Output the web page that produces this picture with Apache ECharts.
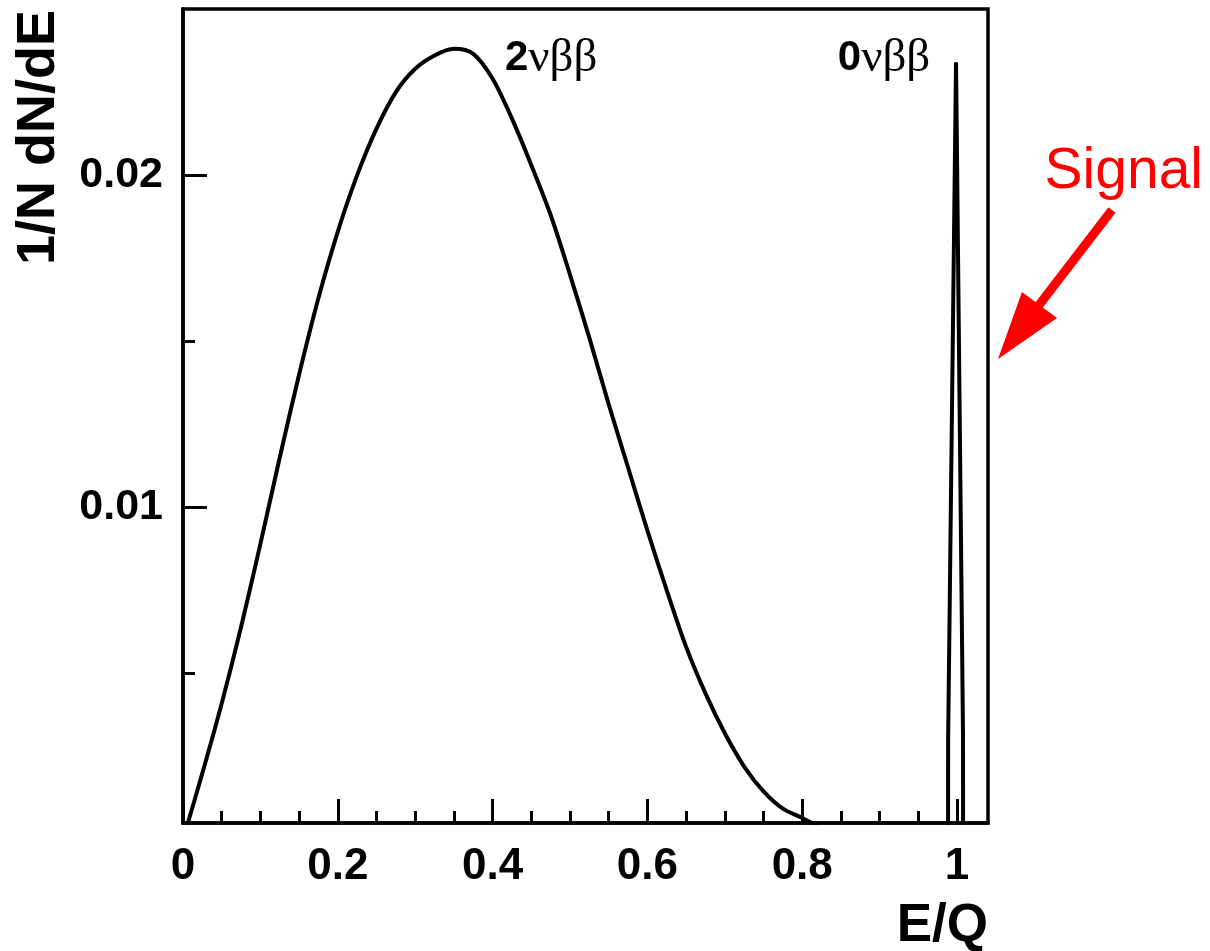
<!DOCTYPE html>
<html>
<head>
<meta charset="utf-8">
<script src="https://cdn.jsdelivr.net/npm/echarts@6/dist/echarts.min.js"></script>
<style>
  html, body { margin: 0; padding: 0; background: #ffffff; }
  #chart { width: 1210px; height: 951px; }
</style>
</head>
<body>
<div id="chart"></div>
<script>
// Two-neutrino double-beta spectrum: summed electron energy (E/Q) vs normalised rate
const energy2nu = [0, 0.025, 0.05, 0.075, 0.10, 0.125, 0.15, 0.175, 0.20, 0.225, 0.25,
  0.275, 0.30, 0.325, 0.35, 0.375, 0.40, 0.425, 0.45, 0.475, 0.50, 0.525, 0.55, 0.575,
  0.60, 0.625, 0.65, 0.675, 0.70, 0.725, 0.75, 0.775, 0.80, 0.825, 0.85];
const rate2nu = [0, 0.0020, 0.0041, 0.0064, 0.0089, 0.0115, 0.0140, 0.0163, 0.0183, 0.0200, 0.0214,
  0.0225, 0.0232, 0.0236, 0.0238, 0.02365, 0.0229, 0.0217, 0.0203, 0.0188, 0.0170, 0.0151, 0.0131, 0.0112,
  0.0093, 0.0075, 0.0058, 0.0044, 0.0032, 0.0022, 0.00145, 0.00093, 0.00065, 0.00035, 0.00015];

// Neutrinoless line at the endpoint
const energy0nu = [0.9884, 0.9885, 0.9987, 1.0077, 1.0078];
const rate0nu = [0, 0.0030, 0.0234, 0.0032, 0];

// Axis ticks and labels
const xMajorTicks = [0, 0.2, 0.4, 0.6, 0.8, 1];
const xMinorTicks = [0.05, 0.1, 0.15, 0.25, 0.3, 0.35, 0.45, 0.5, 0.55, 0.65, 0.7, 0.75, 0.85, 0.9, 0.95];
const yMajorTicks = [0.01, 0.02];
const yMinorTicks = [0.005, 0.015];

const xTitle = 'E/Q';
const yTitle = '1/N dN/dE';
const label2nu = { lead: '2', tail: 'νββ', at: [0.416, 0.0228] };
const label0nu = { lead: '0', tail: 'νββ', at: [0.846, 0.0228] };
const signalText = 'Signal';

const SANS = '"Liberation Sans", Arial, Helvetica, sans-serif';
const SERIF = '"Liberation Serif", "Times New Roman", serif';
const INK = '#000000';

const chart = echarts.init(document.getElementById('chart'), null, { renderer: 'canvas' });

function tickFmt(v) { return String(+(+v).toFixed(3)); }

function valueAxis(extra) {
  return Object.assign({
    type: 'value',
    splitLine: { show: false },
    axisLine: { show: false },
    axisPointer: { show: false }
  }, extra);
}

const option = {
  animation: false,
  backgroundColor: '#ffffff',
  grid: {
    left: 183, top: 9, width: 805, height: 814,
    show: true, borderColor: INK, borderWidth: 3.5, backgroundColor: 'transparent'
  },
  xAxis: [
    valueAxis({
      min: 0, max: 1.04, position: 'bottom',
      axisLine: { show: true, onZero: false, lineStyle: { color: INK, width: 3.5 } },
      axisTick: { show: true, inside: true, length: 24, customValues: xMajorTicks, lineStyle: { color: INK, width: 3 } },
      axisLabel: { show: true, customValues: xMajorTicks, formatter: tickFmt, margin: 22,
        color: INK, fontFamily: SANS, fontWeight: 'bold', fontSize: 44 }
    }),
    valueAxis({
      min: 0, max: 1.04, position: 'bottom', offset: 0,
      axisTick: { show: true, inside: true, length: 12, customValues: xMinorTicks, lineStyle: { color: INK, width: 3 } },
      axisLabel: { show: false }
    })
  ],
  yAxis: [
    valueAxis({
      min: 0.0005, max: 0.025, position: 'left',
      axisLine: { show: true, onZero: false, lineStyle: { color: INK, width: 3.5 } },
      axisTick: { show: true, inside: true, length: 24, customValues: yMajorTicks, lineStyle: { color: INK, width: 3 } },
      axisLabel: { show: true, customValues: yMajorTicks, formatter: tickFmt, margin: 20,
        color: INK, fontFamily: SANS, fontWeight: 'bold', fontSize: 43 }
    }),
    valueAxis({
      min: 0.0005, max: 0.025, position: 'left', offset: 0,
      axisTick: { show: true, inside: true, length: 12, customValues: yMinorTicks, lineStyle: { color: INK, width: 3 } },
      axisLabel: { show: false }
    })
  ],
  series: [
    {
      name: '2nbb', type: 'line', xAxisIndex: 0, yAxisIndex: 0,
      data: energy2nu.map((e, i) => [e, rate2nu[i]]),
      symbol: 'none', smooth: 0.3, clip: true,
      lineStyle: { color: INK, width: 4 }
    },
    {
      name: '0nbb', type: 'line', xAxisIndex: 0, yAxisIndex: 0,
      data: energy0nu.map((e, i) => [e, rate0nu[i]]),
      symbol: 'none', smooth: false, clip: true,
      lineStyle: { color: INK, width: 4, join: 'miter' }
    }
  ]
};

chart.setOption(option);

// Annotations placed from data coordinates
function peakLabel(lbl) {
  const p = chart.convertToPixel({ gridIndex: 0 }, lbl.at);
  return {
    type: 'text', x: p[0], y: p[1], silent: true,
    style: {
      text: '{b|' + lbl.lead + '}{g|' + lbl.tail + '}',
      align: 'left', verticalAlign: 'bottom',
      textAlign: 'left', textVerticalAlign: 'bottom',
      rich: {
        b: { fontFamily: SANS, fontWeight: 'bold', fontSize: 42, fill: INK, color: INK },
        g: { fontFamily: SERIF, fontSize: 47, fill: INK, color: INK }
      }
    }
  };
}

chart.setOption({
  graphic: [
    peakLabel(label2nu),
    peakLabel(label0nu),
    {
      type: 'text', x: 39, y: 10, rotation: Math.PI / 2, silent: true,
      style: {
        text: yTitle, fill: INK, font: 'bold 54px ' + SANS,
        align: 'right', verticalAlign: 'middle', textAlign: 'right', textVerticalAlign: 'middle'
      }
    },
    {
      type: 'text', x: 988, y: 953, silent: true,
      style: {
        text: xTitle, fill: INK, font: 'bold 53px ' + SANS,
        align: 'right', verticalAlign: 'bottom', textAlign: 'right', textVerticalAlign: 'bottom'
      }
    },
    {
      type: 'text', x: 1203, y: 201, silent: true,
      style: {
        text: signalText, fill: '#ff0000', font: '57px ' + SANS,
        align: 'right', verticalAlign: 'bottom', textAlign: 'right', textVerticalAlign: 'bottom'
      }
    },
    {
      type: 'line', silent: true,
      shape: { x1: 1112, y1: 210, x2: 1036, y2: 309 },
      style: { stroke: '#ff0000', lineWidth: 9, lineCap: 'butt' }
    },
    {
      type: 'polygon', silent: true,
      shape: { points: [[998, 359], [1022, 292], [1057, 318]] },
      style: { fill: '#ff0000' }
    }
  ]
});
</script>
</body>
</html>
